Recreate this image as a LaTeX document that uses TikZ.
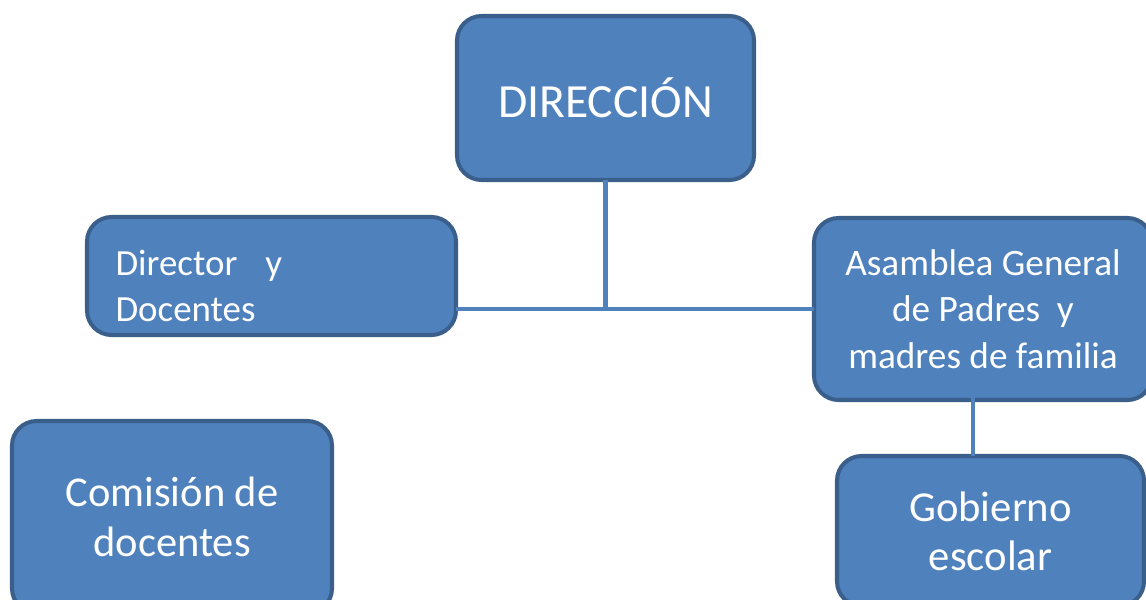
\documentclass[tikz,border=0pt]{standalone}
\usepackage{fontspec}
\setmainfont{Carlito}
\usetikzlibrary{calc}
\definecolor{boxfill}{HTML}{4F81BD}
\definecolor{boxline}{HTML}{3A5F8B}
\begin{document}
\begin{tikzpicture}[x=0.02cm, y=-0.02cm,
        every node/.style={draw=boxline, fill=boxfill, line width=2.3pt, rounded corners=14pt, text=white, outer sep=0pt, inner sep=0pt},
        conn/.style={draw=boxfill, line width=2.3pt}]
        \useasboundingbox (0,0) rectangle (1146,599);
        \clip (0,0) rectangle (1146,599);
        \node[minimum width=297*0.02cm, minimum height=164*0.02cm, font=\fontsize{27.1}{32}\selectfont] (dir) at (605.5, 98) {DIRECCIÓN};
        \node[minimum width=369*0.02cm, minimum height=118*0.02cm, text width=340*0.02cm, align=left, font=\fontsize{21}{26}\selectfont] (dd) at (271.5, 276) {\rule{0pt}{26pt}\hspace*{8pt}Director\hspace{16pt}y\\\hspace*{8pt}Docentes};
        \node[minimum width=338*0.02cm, minimum height=182*0.02cm, align=center, font=\fontsize{21.2}{26.5}\selectfont] (asam) at (983, 309) {Asamblea General\\de Padres\ \ y\\madres de familia};
        \node[minimum width=320*0.02cm, minimum height=192*0.02cm, align=center, font=\fontsize{24.2}{28.5}\selectfont] (com) at (172, 517) {Comisión de\\docentes};
        \node[minimum width=307*0.02cm, minimum height=150*0.02cm, align=center, font=\fontsize{24.3}{28}\selectfont] (gob) at (990.5, 531) {Gobierno\\escolar};
        \draw[conn] (dir.south) -- (dir.south |- asam.west);
        \draw[conn] (asam.west -| dd.east) -- (asam.west);
        \draw[conn] ($(asam.south)+(-10,-17)$) -- ($(asam.south)+(-10,56)$);
    \end{tikzpicture}
\end{document}
